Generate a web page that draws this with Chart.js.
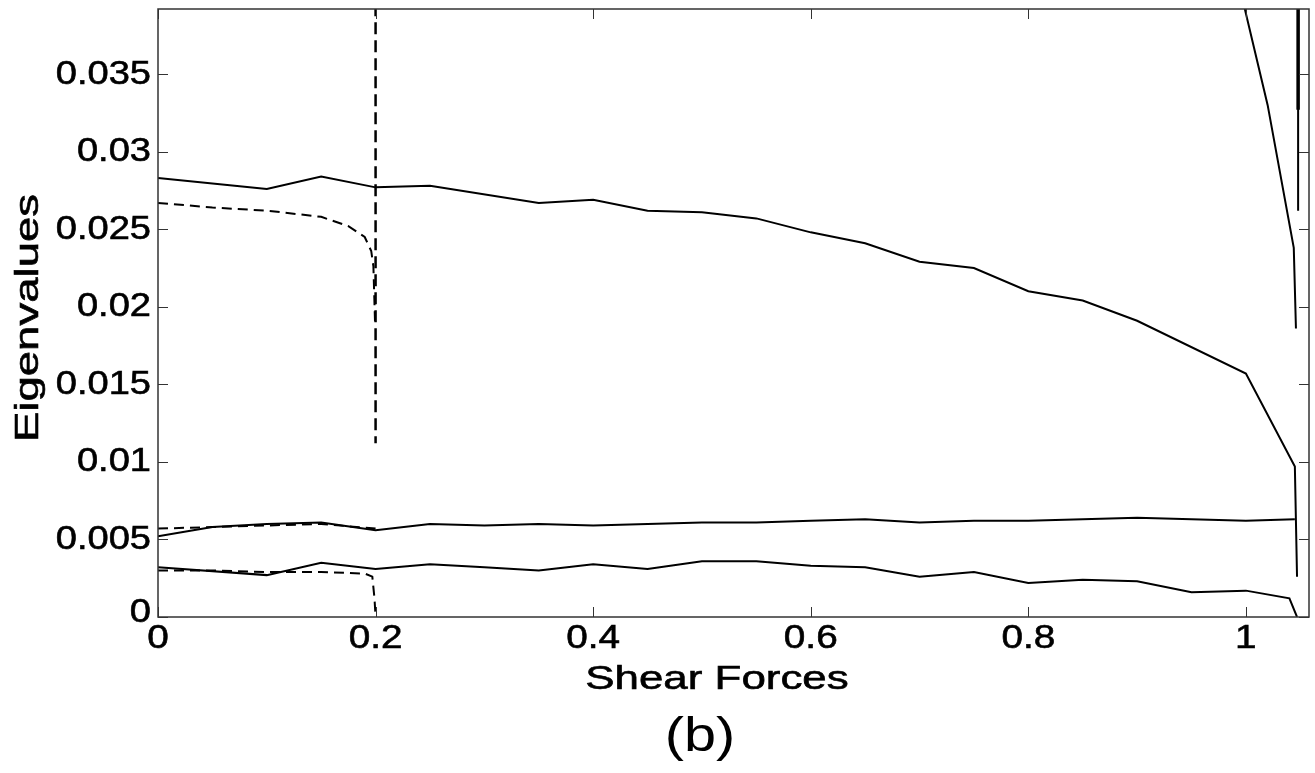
<!DOCTYPE html>
<html lang="en">
<head>
    <meta charset="UTF-8">
    <title>Eigenvalues vs Shear Forces</title>
    <script src="https://cdn.jsdelivr.net/npm/chart.js"></script>
    <style>
        body { margin: 0; background: #fff; }
        #plot { display: block; }
    </style>
</head>
<body>
    <canvas id="plot" width="1315" height="773"></canvas>

    <script>
        // tick values / labels
        const xTicks = [0, 0.2, 0.4, 0.6, 0.8, 1];
        const xTickLabels = ['0', '0.2', '0.4', '0.6', '0.8', '1'];
        const yTicks = [0, 0.005, 0.01, 0.015, 0.02, 0.025, 0.03, 0.035];
        const yTickLabels = ['0', '0.005', '0.01', '0.015', '0.02', '0.025', '0.03', '0.035'];

        // solid curves
        const topX = [0, 0.1, 0.15, 0.2, 0.25, 0.35, 0.4, 0.45, 0.5, 0.55, 0.6, 0.65, 0.7, 0.75, 0.8, 0.85, 0.9, 1.0, 1.045, 1.047];
        const topY = [0.0283, 0.0276, 0.0284, 0.0277, 0.0278, 0.0267, 0.0269, 0.0262, 0.0261, 0.0257, 0.0248, 0.0241, 0.0229, 0.0225, 0.0210, 0.0204, 0.0191, 0.0157, 0.0097, 0.0026];

        const steepX = [0.998, 1.02, 1.044, 1.046];
        const steepY = [0.0395, 0.0330, 0.0238, 0.0186];

        const edgeX = [1.048, 1.048];
        const edgeY = [0.0395, 0.0262];
        const edgeThickY = [0.0395, 0.0327];

        const midX = [0, 0.05, 0.1, 0.15, 0.2, 0.25, 0.3, 0.35, 0.4, 0.45, 0.5, 0.55, 0.6, 0.65, 0.7, 0.75, 0.8, 0.85, 0.9, 0.95, 1.0, 1.045];
        const midY = [0.0052, 0.0058, 0.0060, 0.0061, 0.0056, 0.0060, 0.0059, 0.0060, 0.0059, 0.0060, 0.0061, 0.0061, 0.0062, 0.0063, 0.0061, 0.0062, 0.0062, 0.0063, 0.0064, 0.0063, 0.0062, 0.0063];

        const lowX = [0, 0.1, 0.15, 0.2, 0.25, 0.3, 0.35, 0.4, 0.45, 0.5, 0.55, 0.6, 0.65, 0.7, 0.75, 0.8, 0.85, 0.9, 0.95, 1.0, 1.04, 1.047];
        const lowY = [0.0032, 0.0027, 0.0035, 0.0031, 0.0034, 0.0032, 0.0030, 0.0034, 0.0031, 0.0036, 0.0036, 0.0033, 0.0032, 0.0026, 0.0029, 0.0022, 0.0024, 0.0023, 0.0016, 0.0017, 0.0012, 0];

        // dashed curves
        const dTopX = [0, 0.05, 0.1, 0.15, 0.175, 0.19, 0.196, 0.198, 0.1995];
        const dTopY = [0.0267, 0.0264, 0.0262, 0.0258, 0.0252, 0.0245, 0.0236, 0.0226, 0.0190];

        const dVertX = [0.2, 0.2];
        const dVertY = [0.0395, 0.0112];

        const dMidX = [0, 0.05, 0.1, 0.15, 0.2];
        const dMidY = [0.0057, 0.0058, 0.0059, 0.0060, 0.0057];

        const dLowX = [0, 0.05, 0.1, 0.15, 0.19, 0.197, 0.199, 0.2];
        const dLowY = [0.0030, 0.0030, 0.0029, 0.0029, 0.0028, 0.0026, 0.0012, 0];

        function pts(xs, ys) {
            return xs.map((x, i) => ({ x: x, y: ys[i] }));
        }

        function line(xs, ys, width, dash) {
            return {
                data: pts(xs, ys),
                borderColor: '#000',
                borderWidth: width,
                borderDash: dash || [],
                pointRadius: 0,
                tension: 0,
                fill: false
            };
        }

        const FONT = '"Liberation Sans", Arial, sans-serif';

        // text stretched a bit horizontally and slightly thickened, like the JPEG export
        function label(ctx, text, x, y, sx, rot, thick) {
            ctx.save();
            ctx.translate(x, y);
            if (rot) ctx.rotate(rot);
            ctx.scale(sx, 1);
            ctx.fillText(text, 0, 0);
            if (thick !== false) ctx.strokeText(text, 0, 0);
            ctx.restore();
        }

        // draws box, inward ticks, labels and titles (MATLAB look)
        const matlabAxes = {
            id: 'matlabAxes',
            afterDraw(chart) {
                const ctx = chart.ctx;
                const a = chart.chartArea;
                const xs = chart.scales.x;
                const ys = chart.scales.y;
                ctx.save();
                ctx.strokeStyle = '#333';
                ctx.lineWidth = 1.5;
                ctx.strokeRect(a.left, a.top, a.right - a.left, a.bottom - a.top);

                ctx.lineWidth = 1;
                ctx.beginPath();
                xs.ticks.forEach(t => {
                    const px = Math.round(xs.getPixelForValue(t.value)) + 0.5;
                    ctx.moveTo(px, a.bottom); ctx.lineTo(px, a.bottom - 10);
                    ctx.moveTo(px, a.top); ctx.lineTo(px, a.top + 10);
                });
                ys.ticks.forEach(t => {
                    const py = Math.round(ys.getPixelForValue(t.value)) + 0.5;
                    ctx.moveTo(a.left, py); ctx.lineTo(a.left + 10, py);
                    ctx.moveTo(a.right, py); ctx.lineTo(a.right - 10, py);
                });
                ctx.stroke();

                ctx.fillStyle = '#000';
                ctx.strokeStyle = '#000';
                ctx.lineWidth = 0.6;
                ctx.font = '34px ' + FONT;
                // x tick labels
                ctx.textAlign = 'center';
                ctx.textBaseline = 'middle';
                xs.ticks.forEach((t, i) => {
                    label(ctx, xTickLabels[i], xs.getPixelForValue(t.value), 639, 1.14);
                });
                // y tick labels
                ctx.textAlign = 'right';
                ys.ticks.forEach((t, i) => {
                    const py = ys.getPixelForValue(t.value);
                    label(ctx, yTickLabels[i], a.left - 7, i === 0 ? py - 4 : py, 1.12);
                });

                // axis titles
                ctx.textAlign = 'center';
                ctx.font = '33px ' + FONT;
                label(ctx, 'Shear Forces', 717, 680, 1.33);
                label(ctx, 'Eigenvalues', 29, 318, 1.38, -Math.PI / 2);

                ctx.font = '48px ' + FONT;
                label(ctx, '(b)', 700, 738, 1.2, 0, false);
                ctx.restore();
            }
        };

        new Chart(document.getElementById('plot'), {
            type: 'line',
            data: {
                datasets: [
                    line(topX, topY, 2),
                    line(steepX, steepY, 2),
                    line(edgeX, edgeY, 2),
                    line(edgeX, edgeThickY, 3.5),
                    line(midX, midY, 2),
                    line(lowX, lowY, 2),
                    line(dTopX, dTopY, 2, [10, 6]),
                    line(dVertX, dVertY, 2.5, [12, 6]),
                    line(dMidX, dMidY, 2, [10, 6]),
                    line(dLowX, dLowY, 2, [10, 6])
                ]
            },
            plugins: [matlabAxes],
            options: {
                responsive: false,
                animation: false,
                layout: { padding: { left: 0, right: 6, top: 9, bottom: 0 } },
                plugins: {
                    legend: { display: false },
                    tooltip: { enabled: false }
                },
                scales: {
                    x: {
                        type: 'linear',
                        min: 0,
                        max: 1.058,
                        grid: { display: false },
                        border: { display: false },
                        ticks: { display: false },
                        afterBuildTicks: s => { s.ticks = xTicks.map(v => ({ value: v })); },
                        afterFit: s => { s.height = 156; }
                    },
                    y: {
                        type: 'linear',
                        min: 0,
                        max: 0.0392,
                        grid: { display: false },
                        border: { display: false },
                        ticks: { display: false },
                        afterBuildTicks: s => { s.ticks = yTicks.map(v => ({ value: v })); },
                        afterFit: s => { s.width = 158; }
                    }
                }
            }
        });
    </script>
</body>
</html>
